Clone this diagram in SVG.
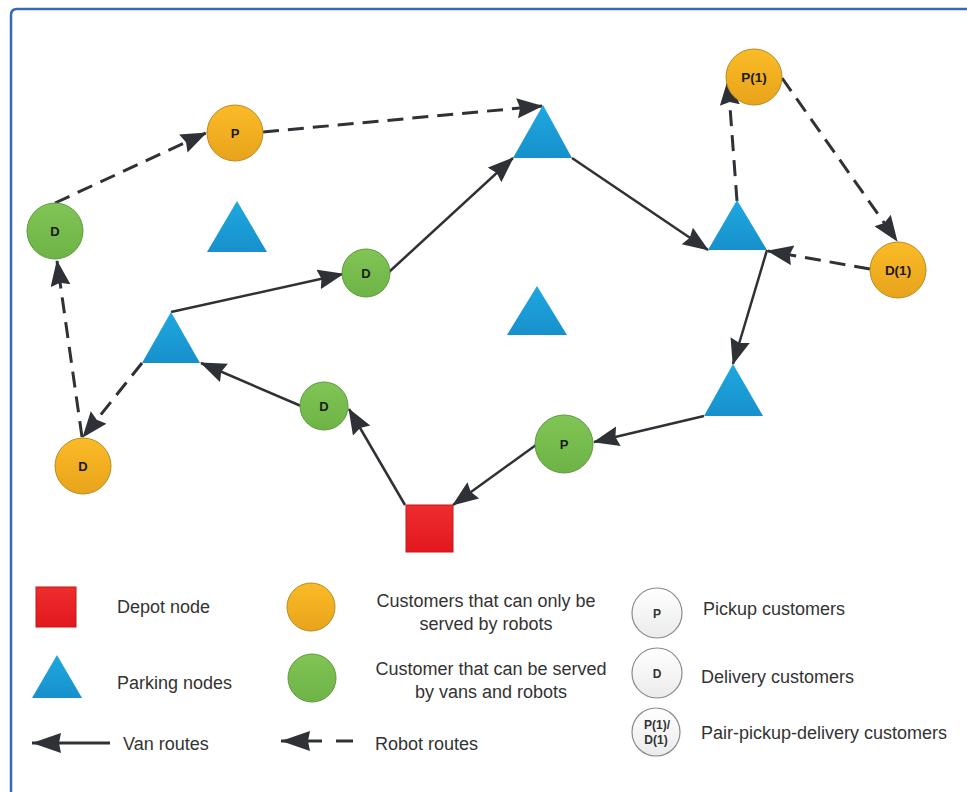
<svg xmlns="http://www.w3.org/2000/svg" width="967" height="792" viewBox="0 0 967 792">
<defs>
<linearGradient id="gO" x1="0" y1="0" x2="0" y2="1"><stop offset="0" stop-color="#FBBB27"/><stop offset="1" stop-color="#E8A31B"/></linearGradient>
<linearGradient id="gG" x1="0" y1="0" x2="0" y2="1"><stop offset="0" stop-color="#80C555"/><stop offset="1" stop-color="#6DB346"/></linearGradient>
<linearGradient id="gB" x1="0" y1="0" x2="0" y2="1"><stop offset="0" stop-color="#1FA8DF"/><stop offset="1" stop-color="#1790CC"/></linearGradient>
<linearGradient id="gR" x1="0" y1="0" x2="0" y2="1"><stop offset="0" stop-color="#EE2D2D"/><stop offset="1" stop-color="#E2181E"/></linearGradient>
<linearGradient id="gW" x1="0" y1="0" x2="0" y2="1"><stop offset="0" stop-color="#FFFFFF"/><stop offset="1" stop-color="#EBEBEB"/></linearGradient>
<marker id="ah" markerUnits="userSpaceOnUse" markerWidth="28" markerHeight="22" refX="25" refY="10" orient="auto"><path d="M0,0 L26,10 L0,20 L3,10 Z" fill="#2E3236"/></marker>
<marker id="ahL" markerUnits="userSpaceOnUse" markerWidth="31" markerHeight="22" refX="29" refY="10" orient="auto"><path d="M0,0 L29,10 L0,20 L2,10 Z" fill="#2E3236"/></marker>
</defs>
<style>
.org{fill:url(#gO);stroke:#B98A22;stroke-width:1}
.grn{fill:url(#gG);stroke:#5E9B3E;stroke-width:1}
.tri{fill:url(#gB)}
.dep{fill:url(#gR);stroke:#C4161B;stroke-width:1}
.wht{fill:url(#gW);stroke:#8A8A8A;stroke-width:1.2}
.lbl{font-family:"Liberation Sans",Arial,sans-serif;font-weight:bold;font-size:13px;fill:#1A1A1A;text-anchor:middle}
.lbl2{font-family:"Liberation Sans",Arial,sans-serif;font-weight:bold;font-size:13.5px;fill:#1A1A1A;text-anchor:middle}
.lgl{font-family:"Liberation Sans",Arial,sans-serif;font-weight:bold;font-size:12px;fill:#333;text-anchor:middle}
.leg{font-family:"Liberation Sans",Arial,sans-serif;font-size:18px;fill:#333}
.van{stroke:#2E3236;stroke-width:2.5;fill:none;marker-end:url(#ah)}
.rob{stroke:#2E3236;stroke-width:3;fill:none;stroke-dasharray:16 9;marker-end:url(#ah)}
</style>
<rect width="967" height="792" fill="#FFFFFF"/>
<path d="M11,792 V15 Q11,9 17,9 H967" fill="none" stroke="#3568BA" stroke-width="2.5"/>

<g id="connectors">
<line class="van" x1="405" y1="505" x2="349" y2="409"/>
<line class="van" x1="301" y1="406" x2="201" y2="363"/>
<line class="van" x1="171" y1="312" x2="343" y2="274"/>
<line class="van" x1="389" y1="272" x2="513" y2="158"/>
<line class="van" x1="572" y1="158" x2="708" y2="250"/>
<line class="van" x1="767" y1="250" x2="733" y2="364"/>
<line class="van" x1="704" y1="416" x2="594" y2="442"/>
<line class="van" x1="536" y1="445" x2="453" y2="505"/>
<line class="rob" x1="142" y1="363" x2="83" y2="437"/>
<line class="rob" x1="82" y1="437" x2="57" y2="261"/>
<line class="rob" x1="55" y1="203" x2="206" y2="133"/>
<line class="rob" x1="263" y1="132" x2="542" y2="106"/>
<line class="rob" x1="737" y1="201" x2="728" y2="80"/>
<line class="rob" x1="782" y1="78" x2="897" y2="241"/>
<line class="rob" x1="870" y1="269" x2="768" y2="251"/>
</g>

<g id="depot"><rect class="dep" x="406" y="505" width="47" height="47"/></g>
<g id="park1"><polygon class="tri" points="237,201 267,252 207,252"/></g>
<g id="park2"><polygon class="tri" points="171,312 200,363 142,363"/></g>
<g id="park3"><polygon class="tri" points="543,105 572,158 513,158"/></g>
<g id="park4"><polygon class="tri" points="537,286 567,335 507,335"/></g>
<g id="park5"><polygon class="tri" points="737,200 767,250 708,250"/></g>
<g id="park6"><polygon class="tri" points="733,364 763,416 704,416"/></g>

<g id="custD1"><circle class="grn" cx="55" cy="231" r="28"/><text class="lbl" x="55" y="236">D</text></g>
<g id="custP1"><circle class="org" cx="235" cy="133" r="28"/><text class="lbl" x="235" y="138">P</text></g>
<g id="custD2"><circle class="grn" cx="366" cy="273" r="24"/><text class="lbl" x="366" y="278">D</text></g>
<g id="custD3"><circle class="grn" cx="324" cy="406" r="24"/><text class="lbl" x="324" y="411">D</text></g>
<g id="custD4"><circle class="org" cx="83" cy="466" r="28"/><text class="lbl" x="83" y="471">D</text></g>
<g id="custP2"><circle class="grn" cx="564" cy="444" r="29"/><text class="lbl" x="564" y="449">P</text></g>
<g id="custP1pair"><circle class="org" cx="754" cy="77" r="28"/><text class="lbl2" x="754" y="82">P(1)</text></g>
<g id="custD1pair"><circle class="org" cx="898" cy="270" r="28"/><text class="lbl2" x="898" y="275">D(1)</text></g>

<g id="legend">
<rect class="dep" x="36" y="587" width="40" height="40"/>
<text class="leg" x="117" y="613">Depot node</text>
<polygon class="tri" points="57,655 82,698 32,698"/>
<text class="leg" x="117" y="689">Parking nodes</text>
<line x1="110" y1="743" x2="32" y2="743" stroke="#2E3236" stroke-width="3" marker-end="url(#ahL)"/>
<text class="leg" x="123" y="750">Van routes</text>
<circle class="org" cx="311" cy="607" r="24"/>
<circle class="grn" cx="312" cy="678" r="24"/>
<line x1="353" y1="741" x2="281" y2="741" stroke="#2E3236" stroke-width="3" stroke-dasharray="17 14 41" marker-end="url(#ahL)"/>
<text class="leg" x="375" y="750">Robot routes</text>
<text class="leg" x="486" y="607" text-anchor="middle">Customers that can only be</text>
<text class="leg" x="486" y="630" text-anchor="middle">served by robots</text>
<text class="leg" x="491" y="675" text-anchor="middle">Customer that can be served</text>
<text class="leg" x="491" y="698" text-anchor="middle">by vans and robots</text>
<circle class="wht" cx="657" cy="613" r="25"/>
<text class="lgl" x="657" y="618">P</text>
<circle class="wht" cx="657" cy="673" r="25"/>
<text class="lgl" x="657" y="678">D</text>
<circle class="wht" cx="656" cy="732" r="24"/>
<text class="lgl" x="657" y="729">P(1)/</text>
<text class="lgl" x="656" y="744">D(1)</text>
<text class="leg" x="703" y="615">Pickup customers</text>
<text class="leg" x="701" y="683">Delivery customers</text>
<text class="leg" x="701" y="739">Pair-pickup-delivery customers</text>
</g>
</svg>
